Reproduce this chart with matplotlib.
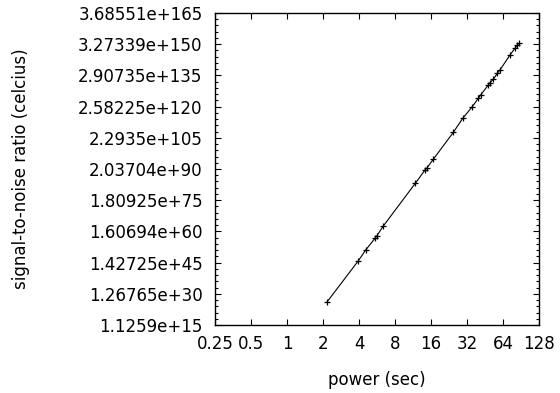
import numpy as np
import matplotlib
matplotlib.use('Agg')
import matplotlib.pyplot as plt
from matplotlib import ticker

power_sec = [2.15, 3.95, 4.55, 5.44, 5.62, 6.39, 11.83, 14.25, 14.73, 16.7,
             24.6, 29.5, 35.4, 39.8, 41.7, 48.2, 49.8, 53.1, 57.4, 60.4,
             73.2, 80.6, 84.3, 87.6]
snr = [1.02e26, 1.14e46, 1.72e51, 7.33e56, 9.51e57, 6.68e62, 2.60e83, 6.72e89,
       4.37e90, 9.44e94, 1.02e108, 6.07e114, 2.25e120, 2.61e124, 1.03e126,
       6.73e130, 8.73e131, 3.95e133, 3.07e136, 1.21e138, 2.03e145, 3.37e148,
       1.33e150, 8.63e150]

x_ticks = [0.25, 0.5, 1, 2, 4, 8, 16, 32, 64, 128]
y_exps = np.arange(50, 551, 50)
y_minor_exps = np.arange(50, 551, 10)

plt.rcParams['font.family'] = ['DejaVu Sans']
plt.rcParams['font.size'] = 12

fig = plt.figure(figsize=(5.6, 3.93), dpi=100)
ax = fig.add_axes([0.384, 0.173, 0.9625 - 0.384, 0.967 - 0.173])

ax.plot(power_sec, snr, color='black', linewidth=0.8,
        marker='+', markersize=4.2, markeredgewidth=0.9)

ax.set_xscale('log', base=2)
ax.set_yscale('log', base=2)
ax.set_xlim(0.25, 128)
ax.set_ylim(2.0 ** 50, 2.0 ** 550)

ax.xaxis.set_major_locator(ticker.FixedLocator(x_ticks))
ax.xaxis.set_minor_locator(ticker.NullLocator())
ax.xaxis.set_major_formatter(ticker.FuncFormatter(lambda v, p: '%g' % v))

ax.yaxis.set_major_locator(ticker.FixedLocator(2.0 ** y_exps))
ax.yaxis.set_minor_locator(ticker.FixedLocator(2.0 ** y_minor_exps))
ax.yaxis.set_major_formatter(ticker.FuncFormatter(lambda v, p: '%g' % v))
ax.yaxis.set_minor_formatter(ticker.NullFormatter())

ax.tick_params(which='both', direction='in', top=True, right=True, width=0.8)
ax.tick_params(which='major', length=4)
ax.tick_params(which='minor', length=2)
ax.tick_params(axis='x', which='major', pad=7)
ax.tick_params(axis='y', which='major', pad=9)

for s in ax.spines.values():
    s.set_linewidth(1.0)

ax.set_xlabel('power (sec)')
ax.set_ylabel('signal-to-noise ratio (celcius)')
ax.xaxis.set_label_coords(0.5, -0.148)
ax.yaxis.set_label_coords(-0.572, 0.5)

fig.savefig('out.png', dpi=100)
